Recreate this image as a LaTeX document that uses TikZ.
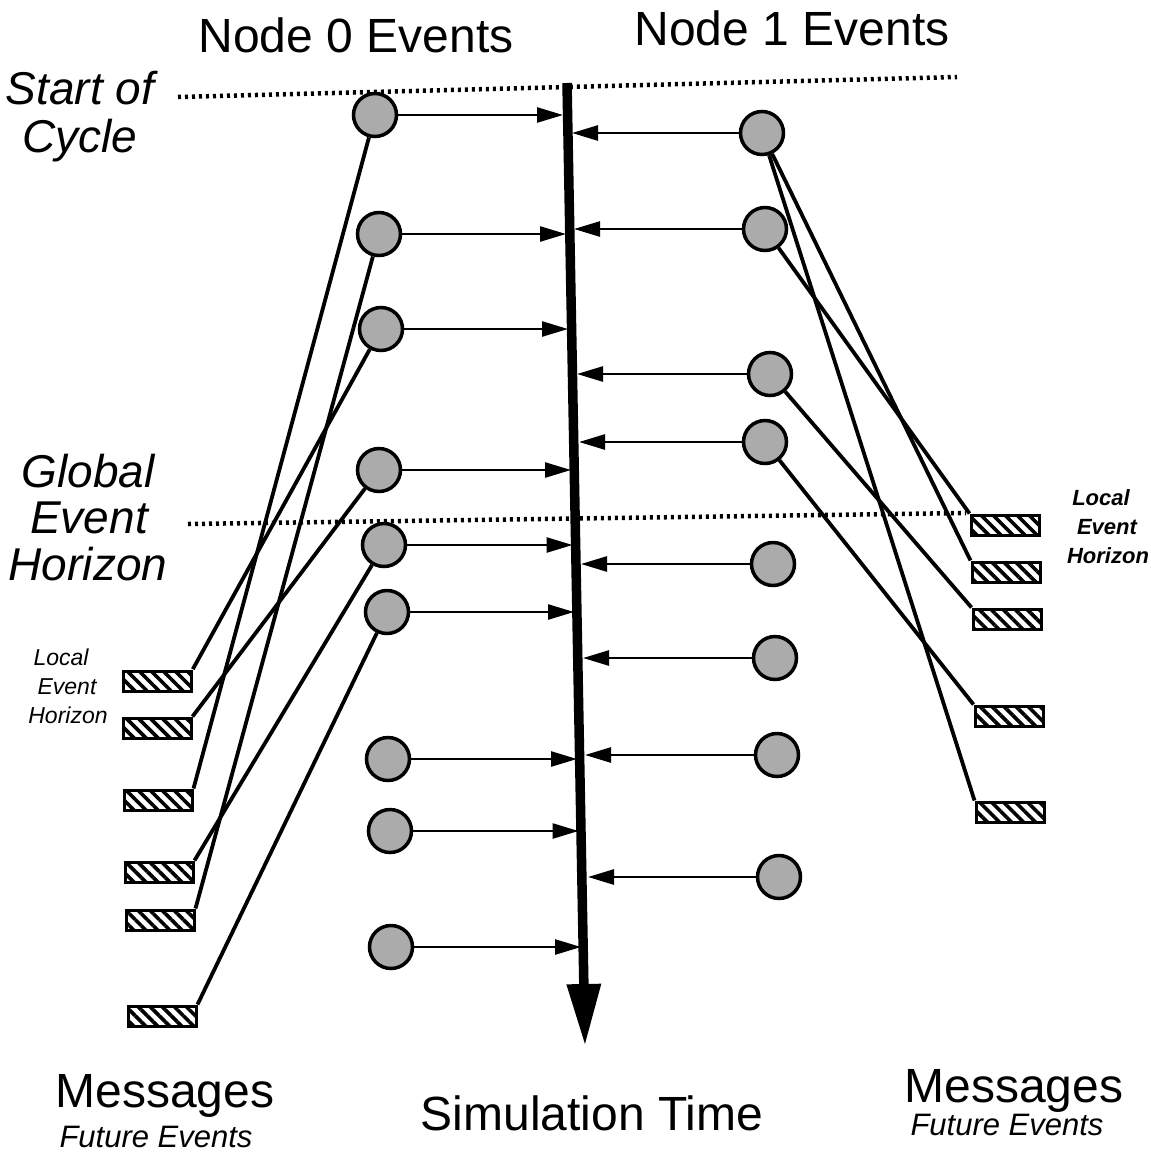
\documentclass[tikz,border=0pt]{standalone}
\usepackage{fontspec}
\setmainfont{Liberation Sans}
\usetikzlibrary{arrows.meta,patterns.meta,backgrounds}
\begin{document}
\begin{tikzpicture}[x=1pt,y=-1pt,
  ev/.style={circle,draw,line width=3.5pt,fill=black!33,minimum size=43pt,inner sep=0pt},
  msg/.style={draw,line width=3pt,minimum width=68pt,minimum height=20pt,inner sep=0pt,
    pattern={Lines[angle=-45,distance=8.5pt,line width=3.6pt]}},
  link/.style={line width=3.8pt},
  hit/.style={line width=2.6pt,-{Triangle[length=26pt,width=15pt]}},
  horizon/.style={line width=4.5pt,dash pattern=on 3pt off 4pt},
  big/.style={font=\fontsize{48}{50}\selectfont,inner sep=0pt,anchor=base},
  side/.style={font=\fontsize{46}{48}\selectfont\itshape,inner sep=0pt,anchor=base},
  small/.style={font=\fontsize{23}{25}\selectfont\itshape,inner sep=0pt,anchor=base},
  smallb/.style={font=\fontsize{22}{24}\selectfont\bfseries\itshape,inner sep=0pt,anchor=base},
  fut/.style={font=\fontsize{31}{33}\selectfont\itshape,inner sep=0pt,anchor=base}
]
\useasboundingbox (0,0) rectangle (1151,1157);

% titles
\node[big] (n0) at (356,52) {Node 0 Events};
\node[big] (n1) at (792,45) {Node 1 Events};
\node[side] (soc1) at (80,104) {Start of};
\node[side] (soc2) at (80,152) {Cycle};
\node[side] (geh1) at (88,487) {Global};
\node[side] (geh2) at (89,533) {Event};
\node[side] (geh3) at (88,580) {Horizon};
\node[small] (leh1) at (61,665) {Local};
\node[small] (leh2) at (67,694) {Event};
\node[small] (leh3) at (68,723) {Horizon};
\node[smallb] (reh1) at (1101,505) {Local};
\node[smallb] (reh2) at (1107,534) {Event};
\node[smallb] (reh3) at (1108,563) {Horizon};
\node[big] (m0) at (165,1107) {Messages};
\node[fut] (f0) at (156,1147) {Future Events};
\node[big] (m1) at (1014,1102) {Messages};
\node[fut] (f1) at (1007,1135) {Future Events};
\node[big] (st) at (592,1130) {Simulation Time};

% horizon lines
\coordinate (socL) at (178,97);
\coordinate (socR) at (957,77);
\coordinate (gehL) at (188,524);
\coordinate (gehR) at (966,513);
\draw[horizon] (socL) -- (socR);
\draw[horizon] (gehL) -- (gehR);

% node 0 events
\node[ev] (L1) at (375,115) {};
\node[ev] (L2) at (379,234) {};
\node[ev] (L3) at (381,329) {};
\node[ev] (L4) at (379,470) {};
\node[ev] (L5) at (384,545) {};
\node[ev] (L6) at (387,612) {};
\node[ev] (L7) at (388,759) {};
\node[ev] (L8) at (390,831) {};
\node[ev] (L9) at (391,947) {};

% node 1 events
\node[ev] (R1) at (762,133) {};
\node[ev] (R2) at (765,229) {};
\node[ev] (R3) at (770,374) {};
\node[ev] (R4) at (765,442) {};
\node[ev] (R5) at (773,564) {};
\node[ev] (R6) at (775,658) {};
\node[ev] (R7) at (777,755) {};
\node[ev] (R8) at (779,877) {};

% messages
\node[msg] (B1) at (157,681) {};
\node[msg] (B2) at (157,728) {};
\node[msg] (B3) at (158,800) {};
\node[msg] (B4) at (159,872) {};
\node[msg] (B5) at (160,920) {};
\node[msg] (B6) at (162,1016) {};
\node[msg] (Q1) at (1005,525) {};
\node[msg] (Q2) at (1006,572) {};
\node[msg] (Q3) at (1007,619) {};
\node[msg] (Q4) at (1009,716) {};
\node[msg] (Q5) at (1010,812) {};

% simulation time axis
\coordinate (ttop) at (567,83);
\coordinate (tbot) at (585,1046);
\draw[line width=9.5pt,-{Triangle[length=62pt,width=32pt]}] (ttop) -- (tbot);

% event arrows to axis
\coordinate (aL1) at (563,115);
\coordinate (aL2) at (566,234);
\coordinate (aL3) at (568,329);
\coordinate (aL4) at (571,470);
\coordinate (aL5) at (572.5,545);
\coordinate (aL6) at (574,612);
\coordinate (aL7) at (577,759);
\coordinate (aL8) at (578.5,831);
\coordinate (aL9) at (581,947);
\foreach \i in {1,...,9} \draw[hit] (L\i) -- (aL\i);
\coordinate (aR1) at (572,133);
\coordinate (aR2) at (574,229);
\coordinate (aR3) at (577,374);
\coordinate (aR4) at (579,442);
\coordinate (aR5) at (581,564);
\coordinate (aR6) at (583,658);
\coordinate (aR7) at (585,755);
\coordinate (aR8) at (588,877);
\foreach \i in {1,...,8} \draw[hit] (R\i) -- (aR\i);

% message links
\begin{scope}[on background layer]
\draw[link] (L1) -- (B3.north east);
\draw[link] (L2) -- (B5.north east);
\draw[link] (L3) -- (B1.north east);
\draw[link] (L4) -- (B2.north east);
\draw[link] (L5) -- (B4.north east);
\draw[link] (L6) -- (B6.north east);
\draw[link] (R1) -- (Q2.north west);
\draw[link] (R1) -- (Q5.north west);
\draw[link] (R2) -- (Q1.north west);
\draw[link] (R3) -- (Q3.north west);
\draw[link] (R4) -- (Q4.north west);
\end{scope}
\end{tikzpicture}
\end{document}
